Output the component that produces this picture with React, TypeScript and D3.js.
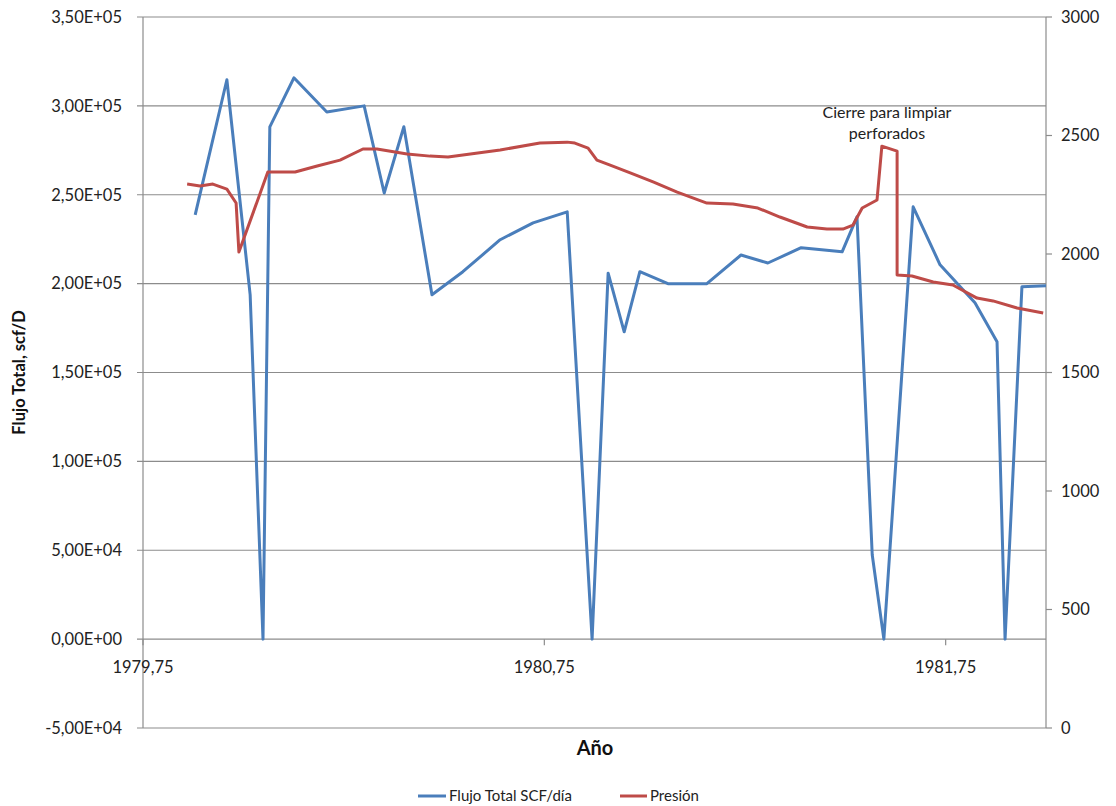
import * as React from 'react';
import * as d3 from 'd3';

// Flujo total (scf/D) vs año
const flowYears = [
  1979.88, 1979.959, 1980.017, 1980.049, 1980.066, 1980.126, 1980.208, 1980.301,
  1980.351, 1980.4, 1980.47, 1980.547, 1980.64, 1980.722, 1980.807, 1980.869,
  1980.909, 1980.949, 1980.988, 1981.058, 1981.155, 1981.24, 1981.307, 1981.39,
  1981.492, 1981.529, 1981.567, 1981.596, 1981.669, 1981.736, 1981.823, 1981.878,
  1981.898, 1981.94, 1982.0,
];
const flowValues = [
  238700, 314700, 193700, 0, 288200, 315800, 296600, 300000,
  251000, 288300, 193700, 206700, 224700, 234200, 240400, 0,
  205900, 172900, 206700, 200000, 200000, 216100, 211600, 220200,
  217900, 237600, 47500, 0, 243200, 210600, 189200, 167300,
  0, 198200, 198800,
];

// Presión vs año
const pressureYears = [
  1979.86, 1979.892, 1979.924, 1979.959, 1979.982, 1979.989, 1980.061, 1980.129,
  1980.184, 1980.241, 1980.298, 1980.333, 1980.408, 1980.465, 1980.51, 1980.64,
  1980.739, 1980.807, 1980.826, 1980.859, 1980.881, 1980.914, 1980.964, 1981.021,
  1981.081, 1981.155, 1981.22, 1981.282, 1981.337, 1981.405, 1981.454, 1981.494,
  1981.519, 1981.542, 1981.579, 1981.591, 1981.629, 1981.629, 1981.666, 1981.719,
  1981.768, 1981.828, 1981.868, 1981.928, 1981.993,
];
const pressureValues = [
  2295, 2287, 2295, 2274, 2215, 2008, 2346, 2346,
  2371, 2396, 2443, 2443, 2422, 2413, 2409, 2439,
  2468, 2472, 2468, 2447, 2396, 2375, 2342, 2304,
  2261, 2215, 2211, 2194, 2156, 2114, 2105, 2105,
  2122, 2194, 2228, 2455, 2434, 1911, 1907, 1882,
  1869, 1814, 1802, 1772, 1751,
];

const xTicks = [1979.75, 1980.75, 1981.75];
const leftTicks = [-50000, 0, 50000, 100000, 150000, 200000, 250000, 300000, 350000];
const rightTicks = [0, 500, 1000, 1500, 2000, 2500, 3000];

const W = 1116;
const H = 806;
const M = { left: 143, right: 1046, top: 17, bottom: 728 };
const FONT = 'Lato, "Open Sans", sans-serif';
const BLUE = '#4A7EBB';
const RED = '#BE4B48';
const GRID = '#8c8c8c';
const TICK_FS = 16.5;

function sci(v: number) {
  if (v === 0) return '0,00E+00';
  const e = Math.floor(Math.log10(Math.abs(v)));
  const m = (v / Math.pow(10, e)).toFixed(2).replace('.', ',');
  const sign = e < 0 ? '-' : '+';
  return m + 'E' + sign + String(Math.abs(e)).padStart(2, '0');
}

export default function App() {
  const x = d3.scaleLinear().domain([1979.75, 1982.0]).range([M.left, M.right]);
  const yL = d3.scaleLinear().domain([-50000, 350000]).range([M.bottom, M.top]);
  const yR = d3.scaleLinear().domain([0, 3000]).range([M.bottom, M.top]);

  const flowLine = d3
    .line<number>()
    .x((_d, i) => x(flowYears[i]))
    .y((d) => yL(d));
  const presLine = d3
    .line<number>()
    .x((_d, i) => x(pressureYears[i]))
    .y((d) => yR(d));

  const y0 = yL(0);

  return (
    <svg
      width={W}
      height={H}
      style={{ position: 'absolute', left: 0, top: 0, background: '#fff' }}
      fontFamily={FONT}
    >
      {/* horizontal gridlines */}
      {leftTicks.map((t) => (
        <line key={'g' + t} x1={M.left - 6} x2={M.right} y1={yL(t)} y2={yL(t)} stroke={GRID} strokeWidth={1.2} />
      ))}
      {/* left axis */}
      <line x1={M.left} x2={M.left} y1={M.top} y2={M.bottom} stroke={GRID} strokeWidth={1.2} />
      {leftTicks.map((t) => (
        <text key={'l' + t} x={M.left - 21} y={yL(t)} dy="0.35em" textAnchor="end" fontSize={TICK_FS} fill="#222">
          {sci(t)}
        </text>
      ))}
      {/* right axis */}
      <line x1={M.right} x2={M.right} y1={M.top} y2={M.bottom} stroke={GRID} strokeWidth={1.2} />
      {rightTicks.map((t) => (
        <g key={'r' + t}>
          <line x1={M.right} x2={M.right + 6} y1={yR(t)} y2={yR(t)} stroke={GRID} strokeWidth={1.2} />
          <text x={M.right + 15} y={yR(t)} dy="0.35em" textAnchor="start" fontSize={TICK_FS} fill="#222">
            {t}
          </text>
        </g>
      ))}
      {/* x axis at zero */}
      {xTicks.map((t) => (
        <g key={'x' + t}>
          <line x1={x(t)} x2={x(t)} y1={y0} y2={y0 + 6} stroke={GRID} strokeWidth={1.2} />
          <text x={x(t)} y={y0 + 34} textAnchor="middle" fontSize={TICK_FS} fill="#222">
            {String(t).replace('.', ',')}
          </text>
        </g>
      ))}

      {/* series */}
      <path d={flowLine(flowValues) || ''} fill="none" stroke={BLUE} strokeWidth={3} strokeLinejoin="round" />
      <path d={presLine(pressureValues) || ''} fill="none" stroke={RED} strokeWidth={3} strokeLinejoin="round" />

      {/* annotation */}
      <text x={887} y={118} textAnchor="middle" fontSize={16} fill="#222">
        Cierre para limpiar
      </text>
      <text x={887} y={139} textAnchor="middle" fontSize={16} fill="#222">
        perforados
      </text>

      {/* axis titles */}
      <text
        transform={`translate(25,${(M.top + M.bottom) / 2}) rotate(-90)`}
        textAnchor="middle"
        fontSize={16.5}
        fontWeight="bold"
        fill="#111"
      >
        Flujo Total, scf/D
      </text>
      <text x={595} y={755} textAnchor="middle" fontSize={20} fontWeight="bold" fill="#111">
        Año
      </text>

      {/* legend */}
      <line x1={418} x2={446} y1={796} y2={796} stroke={BLUE} strokeWidth={3} />
      <text x={449} y={796} dy="0.35em" fontSize={15} fill="#222">
        Flujo Total SCF/día
      </text>
      <line x1={620} x2={647} y1={796} y2={796} stroke={RED} strokeWidth={3} />
      <text x={650} y={796} dy="0.35em" fontSize={15} fill="#222">
        Presión
      </text>
    </svg>
  );
}
